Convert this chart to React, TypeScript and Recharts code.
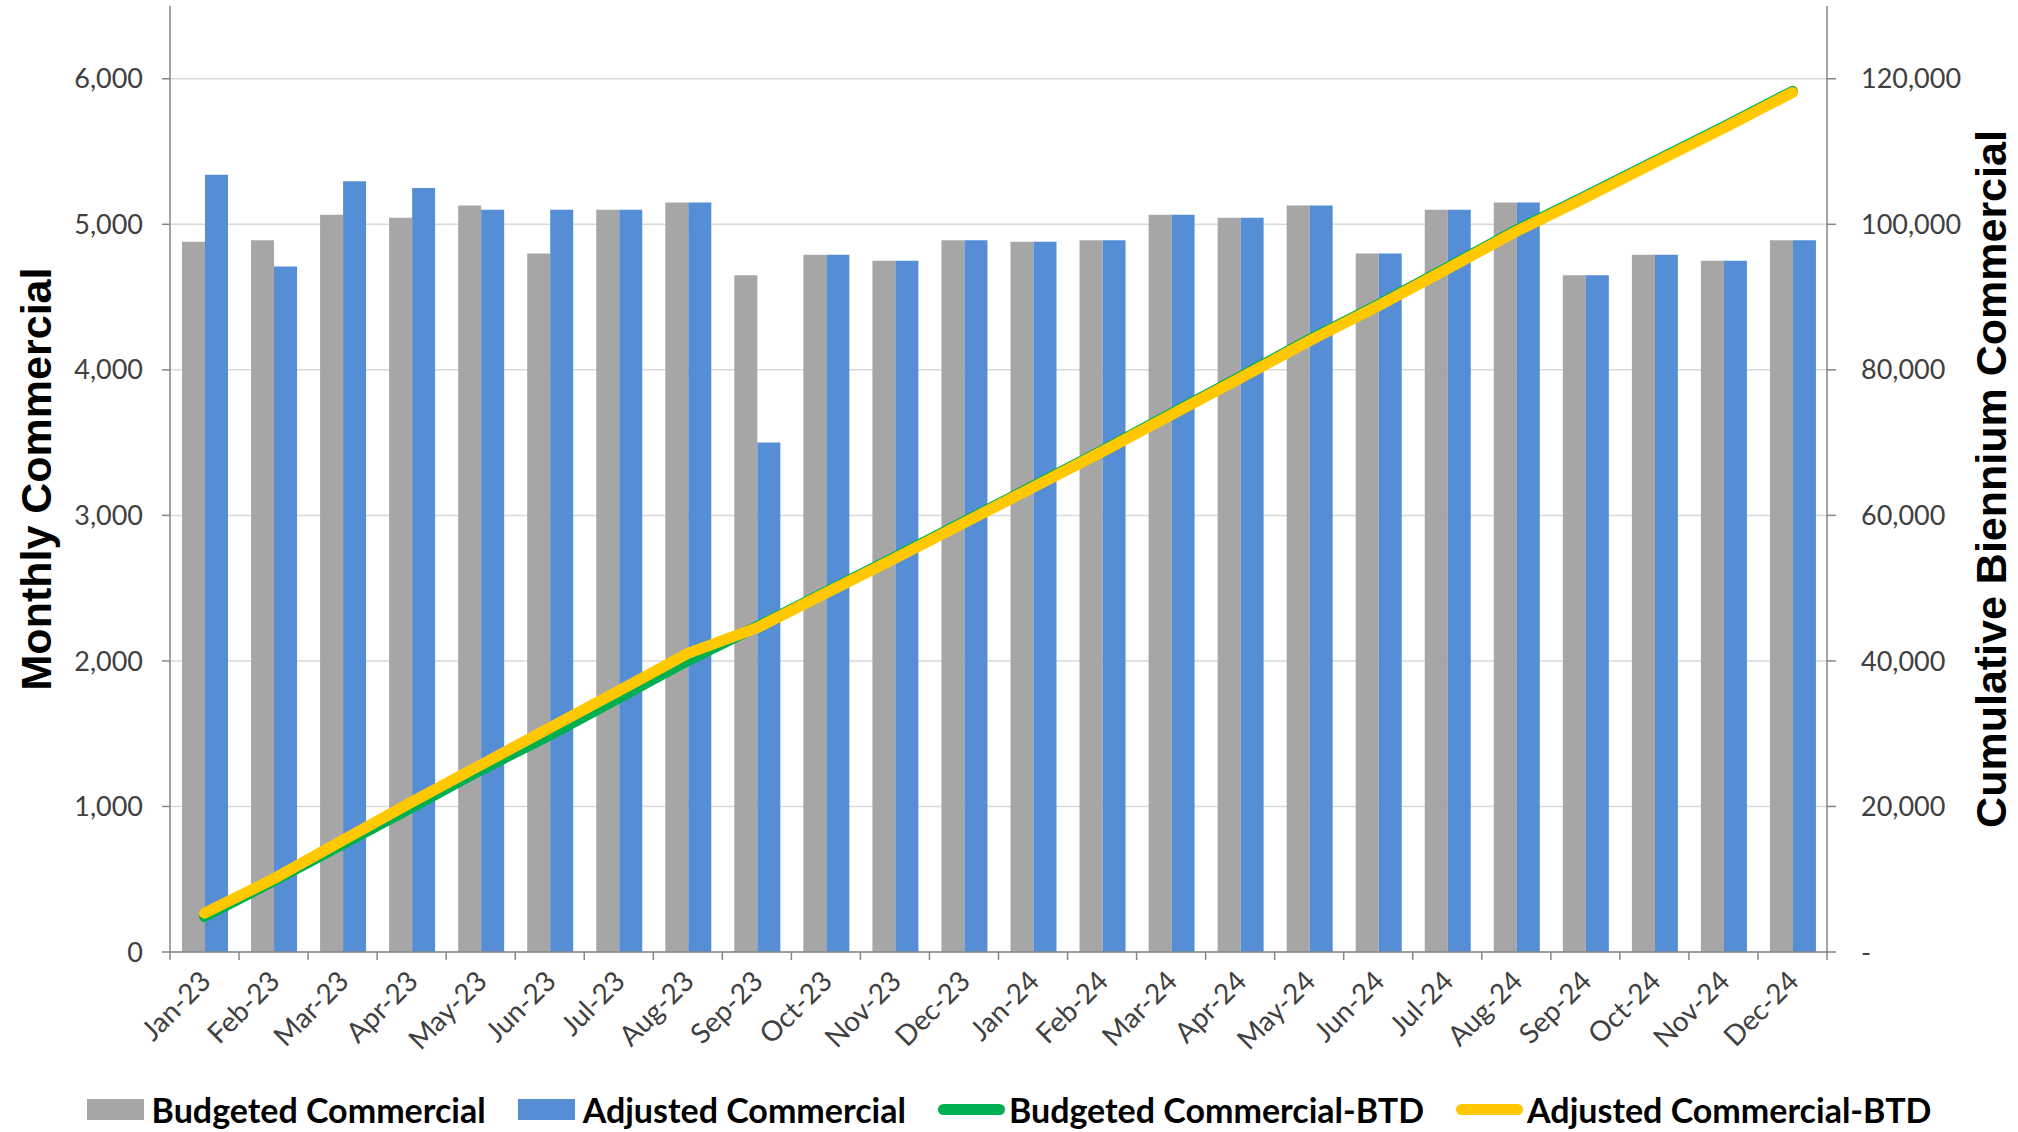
import {
  ComposedChart,
  Bar,
  Line,
  XAxis,
  YAxis,
  CartesianGrid,
  Legend,
} from "recharts";

const months = [
  "Jan-23", "Feb-23", "Mar-23", "Apr-23", "May-23", "Jun-23",
  "Jul-23", "Aug-23", "Sep-23", "Oct-23", "Nov-23", "Dec-23",
  "Jan-24", "Feb-24", "Mar-24", "Apr-24", "May-24", "Jun-24",
  "Jul-24", "Aug-24", "Sep-24", "Oct-24", "Nov-24", "Dec-24",
];

const budgeted = [
  4880, 4890, 5065, 5045, 5130, 4800, 5100, 5150, 4650, 4790, 4750, 4890,
  4880, 4890, 5065, 5045, 5130, 4800, 5100, 5150, 4650, 4790, 4750, 4890,
];

const adjusted = [
  5340, 4710, 5295, 5250, 5100, 5100, 5100, 5150, 3500, 4790, 4750, 4890,
  4880, 4890, 5065, 5045, 5130, 4800, 5100, 5150, 4650, 4790, 4750, 4890,
];

const budgetedBtd = [
  4880, 9770, 14835, 19880, 25010, 29810, 34910, 40060, 44710, 49500, 54250, 59140,
  64020, 68910, 73975, 79020, 84150, 88950, 94050, 99200, 103850, 108640, 113390, 118280,
];

const adjustedBtd = [
  5340, 10050, 15345, 20595, 25695, 30795, 35895, 41045, 44545, 49335, 54085, 58975,
  63855, 68745, 73810, 78855, 83985, 88785, 93885, 99035, 103685, 108475, 113225, 118115,
];

const leftTicks = [0, 1000, 2000, 3000, 4000, 5000, 6000];
const rightTicks = [0, 20000, 40000, 60000, 80000, 100000, 120000];
const LEFT_MAX = 6500;

const data = months.map((month, i) => ({
  month,
  budgeted: budgeted[i],
  adjusted: adjusted[i],
  budgetedBtd: budgetedBtd[i],
  adjustedBtd: adjustedBtd[i],
}));

const W = 2018;
const H = 1132;
const LEFT_W = 170;
const RIGHT_W = 191;
const STEP = (W - LEFT_W - RIGHT_W) / months.length;
const AXIS = "#868686";
const TICK_FONT = "Lato, 'Liberation Sans', sans-serif";

const fmt = (v: number) => (v === 0 ? "-" : v.toLocaleString("en-US"));

const MonthTick = (props: any) => {
  const { x, y, payload, index } = props;
  const tx = x + 8;
  const ty = y + 31;
  return (
    <g>
      <line x1={x - STEP / 2} x2={x - STEP / 2} y1={y} y2={y + 8} stroke={AXIS} strokeWidth={1.5} />
      {index === months.length - 1 && (
        <line x1={x + STEP / 2} x2={x + STEP / 2} y1={y} y2={y + 8} stroke={AXIS} strokeWidth={1.5} />
      )}
      <text
        x={tx}
        y={ty}
        transform={`rotate(-45, ${tx}, ${ty})`}
        textAnchor="end"
        fontFamily={TICK_FONT}
        fontSize={28}
        fill="#404040"
      >
        {payload.value}
      </text>
    </g>
  );
};

const axisTitle = (text: string, dx: number) => (props: any) => {
  const { x, y, height } = props.viewBox;
  const cx = x + dx;
  const cy = y + height / 2;
  return (
    <text
      x={cx}
      y={cy}
      transform={`rotate(-90, ${cx}, ${cy})`}
      textAnchor="middle"
      dominantBaseline="central"
      fontFamily="'Liberation Sans', Arial, sans-serif"
      fontWeight="bold"
      fontSize={43}
      fill="#000"
    >
      {text}
    </text>
  );
};

const legendItems = [
  { label: "Budgeted Commercial", color: "#a6a6a6", kind: "bar" },
  { label: "Adjusted Commercial", color: "#558ed5", kind: "bar" },
  { label: "Budgeted Commercial-BTD", color: "#00b050", kind: "line" },
  { label: "Adjusted Commercial-BTD", color: "#ffc800", kind: "line" },
];

const renderLegend = () => (
  <div
    style={{
      display: "flex",
      justifyContent: "center",
      alignItems: "center",
      gap: 32,
      height: 46,
      fontFamily: TICK_FONT,
      fontWeight: "bold",
      fontSize: 34,
      color: "#000",
    }}
  >
    {legendItems.map((it) => (
      <div key={it.label} style={{ display: "flex", alignItems: "center" }}>
        <div
          style={{
            width: it.kind === "bar" ? 57 : 67,
            height: it.kind === "bar" ? 21 : 11,
            borderRadius: it.kind === "bar" ? 0 : 6,
            background: it.color,
            marginRight: it.kind === "bar" ? 8 : 4,
          }}
        />
        <span>{it.label}</span>
      </div>
    ))}
  </div>
);

// only the tick rows, no line along the top of the plot
const gridRows = (props: any) => {
  const off = props?.offset;
  if (!off) return [];
  return leftTicks.map((t) => off.top + off.height * (1 - t / LEFT_MAX));
};

export default function App() {
  return (
    <div style={{ width: W, height: H, background: "#fff" }}>
      <style>{"body{margin:0}"}</style>
      <ComposedChart
        width={W}
        height={H}
        data={data}
        margin={{ top: 6, right: 0, bottom: 0, left: 0 }}
        barGap={0}
      >
        <CartesianGrid
          yAxisId="left"
          vertical={false}
          stroke="#d9d9d9"
          strokeWidth={1.5}
          horizontalCoordinatesGenerator={gridRows}
        />
        <XAxis
          dataKey="month"
          interval={0}
          height={134}
          tickLine={false}
          tickSize={0}
          tickMargin={0}
          axisLine={{ stroke: AXIS, strokeWidth: 1.5 }}
          tick={<MonthTick />}
        />
        <YAxis
          yAxisId="left"
          width={LEFT_W}
          domain={[0, LEFT_MAX]}
          ticks={leftTicks}
          tickFormatter={(v: number) => v.toLocaleString("en-US")}
          tickSize={8}
          tickMargin={19}
          axisLine={{ stroke: AXIS, strokeWidth: 1.5 }}
          tickLine={{ stroke: AXIS, strokeWidth: 1.5 }}
          tick={{ fontFamily: TICK_FONT, fontSize: 27, fill: "#404040" }}
          label={{ content: axisTitle("Monthly Commercial", 36) }}
        />
        <YAxis
          yAxisId="right"
          orientation="right"
          width={RIGHT_W}
          domain={[0, 130000]}
          ticks={rightTicks}
          tickFormatter={fmt}
          tickSize={9}
          tickMargin={25}
          axisLine={{ stroke: AXIS, strokeWidth: 1.5 }}
          tickLine={{ stroke: AXIS, strokeWidth: 1.5 }}
          tick={{ fontFamily: TICK_FONT, fontSize: 27, fill: "#404040", textAnchor: "start" }}
          label={{ content: axisTitle("Cumulative Biennium Commercial", 164) }}
        />
        <Legend height={46} content={renderLegend} />
        <Bar yAxisId="left" dataKey="budgeted" name="Budgeted Commercial" fill="#a6a6a6" barSize={23} isAnimationActive={false} />
        <Bar yAxisId="left" dataKey="adjusted" name="Adjusted Commercial" fill="#558ed5" barSize={23} isAnimationActive={false} />
        <Line
          yAxisId="right"
          type="linear"
          dataKey="budgetedBtd"
          name="Budgeted Commercial-BTD"
          stroke="#00b050"
          strokeWidth={11}
          strokeLinecap="round"
          strokeLinejoin="round"
          dot={false}
          isAnimationActive={false}
        />
        <Line
          yAxisId="right"
          type="linear"
          dataKey="adjustedBtd"
          name="Adjusted Commercial-BTD"
          stroke="#ffc800"
          strokeWidth={11}
          strokeLinecap="round"
          strokeLinejoin="round"
          dot={false}
          isAnimationActive={false}
        />
      </ComposedChart>
    </div>
  );
}
